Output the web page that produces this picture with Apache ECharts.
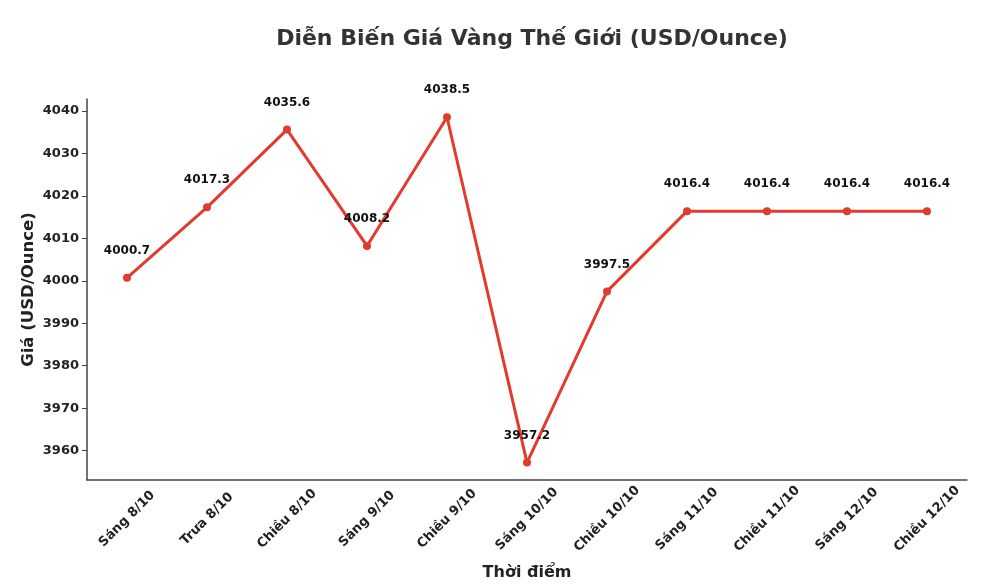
<!DOCTYPE html>
<html><head><meta charset="utf-8">
<script src="https://cdn.jsdelivr.net/npm/echarts@6/dist/echarts.min.js"></script>
<style>html,body{margin:0;padding:0;background:#fff}#c{width:990px;height:586px}</style>
</head><body><div id="c"></div>
<script>
const categories = ["Sáng 8/10","Trưa 8/10","Chiều 8/10","Sáng 9/10","Chiều 9/10","Sáng 10/10","Chiều 10/10","Sáng 11/10","Chiều 11/10","Sáng 12/10","Chiều 12/10"];
const prices = [4000.7, 4017.3, 4035.6, 4008.2, 4038.5, 3957.2, 3997.5, 4016.4, 4016.4, 4016.4, 4016.4];
const yTicks = [3960, 3970, 3980, 3990, 4000, 4010, 4020, 4030, 4040];
const F = "DejaVu Sans";
const chart = echarts.init(document.getElementById('c'));
chart.setOption({
  animation: false,
  textStyle: {fontFamily: F},
  title: {text: "Diễn Biến Giá Vàng Thế Giới (USD/Ounce)", left: 527, textAlign: 'center', top: 23,
    textStyle: {fontFamily: F, fontWeight: 'bold', fontSize: 22, color: '#333'}},
  grid: {left: 87, right: 23, top: 99, bottom: 105},
  xAxis: {type: 'category', data: categories, boundaryGap: true,
    name: "Thời điểm", nameLocation: 'middle', nameGap: 85, nameMoveOverlap: false,
    nameTextStyle: {fontFamily: F, fontWeight: 'bold', fontSize: 16, color: '#222'},
    axisLine: {lineStyle: {color: '#444', width: 1.5}},
    axisTick: {alignWithLabel: true, length: 5, lineStyle: {color: '#444'}},
    axisLabel: {rotate: 45, interval: 0, align: 'center', verticalAlign: 'middle', margin: 39,
      fontFamily: F, fontWeight: 'bold', fontSize: 13, color: '#222'},
    splitLine: {show: false}},
  yAxis: {type: 'value', min: 3953.1, max: 4042.8,
    name: "Giá (USD/Ounce)", nameLocation: 'middle', nameGap: 50, nameMoveOverlap: false,
    nameTextStyle: {fontFamily: F, fontWeight: 'bold', fontSize: 16.5, color: '#222'},
    axisLine: {show: true, lineStyle: {color: '#444', width: 1.5}},
    axisTick: {show: true, length: 5, customValues: yTicks, lineStyle: {color: '#444'}},
    axisLabel: {customValues: yTicks, formatter: v => String(v), fontFamily: F, fontWeight: 'bold', fontSize: 13, color: '#222', margin: 8},
    splitLine: {show: false}},
  series: [{type: 'line', data: prices, symbol: 'circle', symbolSize: 8,
    lineStyle: {color: '#e23b2e', width: 3}, itemStyle: {color: '#e23b2e'},
    label: {show: true, position: 'top', distance: 17, fontFamily: F, fontWeight: 'bold', fontSize: 12, color: '#111',
      formatter: p => p.value.toFixed(1)}}]
});
</script></body></html>
